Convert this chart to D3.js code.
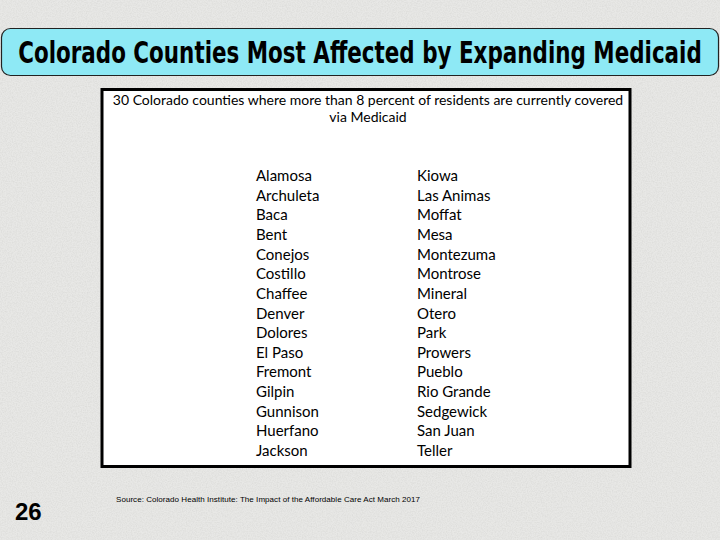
<!DOCTYPE html>
<html><head><meta charset="utf-8">
<script src="https://cdn.jsdelivr.net/npm/d3@7"></script>
<style>html,body{margin:0;padding:0;background:#e6e6e4;}svg{display:block;}</style>
</head><body>
<script>
const titleText = "Colorado Counties Most Affected by Expanding Medicaid";
const headerLines = ["30 Colorado counties where more than 8 percent of residents are currently covered", "via Medicaid"];
const countiesLeft = ["Alamosa","Archuleta","Baca","Bent","Conejos","Costillo","Chaffee","Denver","Dolores","El Paso","Fremont","Gilpin","Gunnison","Huerfano","Jackson"];
const countiesRight = ["Kiowa","Las Animas","Moffat","Mesa","Montezuma","Montrose","Mineral","Otero","Park","Prowers","Pueblo","Rio Grande","Sedgewick","San Juan","Teller"];
const columns = ["left","right"];
const pageNumber = "26";
const sourceText = "Source:  Colorado Health Institute:  The Impact of the Affordable Care Act March 2017";

const W = 720, H = 540;
const svg = d3.select("body").append("svg").attr("width", W).attr("height", H);

// textured background
const defs = svg.append("defs");
const f = defs.append("filter").attr("id","grain").attr("x",0).attr("y",0).attr("width","100%").attr("height","100%");
f.append("feTurbulence").attr("type","fractalNoise").attr("baseFrequency",0.8).attr("numOctaves",2).attr("seed",3).attr("result","n");
f.append("feColorMatrix").attr("in","n").attr("type","matrix")
  .attr("values","0 0 0 0 0.6  0 0 0 0 0.6  0 0 0 0 0.58  0 0 0 -1.4 0.95").attr("result","c");
svg.append("rect").attr("width",W).attr("height",H).attr("fill","#e8e8e6");
svg.append("rect").attr("width",W).attr("height",H).attr("fill","#e8e8e6").attr("filter","url(#grain)").attr("opacity",0.5);

// title banner
svg.append("rect").attr("x",1.5).attr("y",28.5).attr("width",717).attr("height",47).attr("rx",9)
  .attr("fill","#8ee9f5").attr("stroke","#222").attr("stroke-width",1.2);
const title = svg.append("text").attr("x",0).attr("y",0).attr("text-anchor","middle")
  .style("font-family","'DejaVu Sans Condensed','DejaVu Sans',sans-serif")
  .style("font-stretch","condensed").style("font-weight","bold").style("font-size","31px")
  .attr("fill","#000").text(titleText);
const tl = title.node().getComputedTextLength();
title.attr("transform", `translate(360,63) scale(${684/tl},1)`);

// white panel
svg.append("rect").attr("x",102).attr("y",89.5).attr("width",528).attr("height",377)
  .attr("fill","#fff").attr("stroke","#000").attr("stroke-width",3);

const bodyFont = "Lato, 'Open Sans', sans-serif";
svg.append("g").selectAll("text").data(headerLines).join("text")
  .attr("x",368).attr("y",(d,i)=>105+i*17).attr("text-anchor","middle")
  .style("font-family",bodyFont).style("font-size","14px").attr("fill","#000").text(d=>d);

const y = d3.scalePoint().domain(d3.range(countiesLeft.length)).range([181,456]);
const x = d3.scaleOrdinal().domain(columns).range([256,417]);
const rows = [];
countiesLeft.forEach((c,i)=>rows.push({col:"left",i,name:c}));
countiesRight.forEach((c,i)=>rows.push({col:"right",i,name:c}));
svg.append("g").selectAll("text").data(rows).join("text")
  .attr("x",d=>x(d.col)).attr("y",d=>y(d.i))
  .style("font-family",bodyFont).style("font-size","15px").attr("fill","#000").text(d=>d.name);

// page number and source
svg.append("text").attr("x",15).attr("y",520).style("font-family","'Liberation Sans',Arial,sans-serif")
  .style("font-weight","bold").style("font-size","24px").attr("fill","#000").text(pageNumber);
svg.append("text").attr("x",116).attr("y",502).style("font-family","'Liberation Sans',Arial,sans-serif")
  .style("font-size","8px").attr("fill","#000").attr("textLength",304).attr("lengthAdjust","spacing").text(sourceText);
</script>
</body></html>
